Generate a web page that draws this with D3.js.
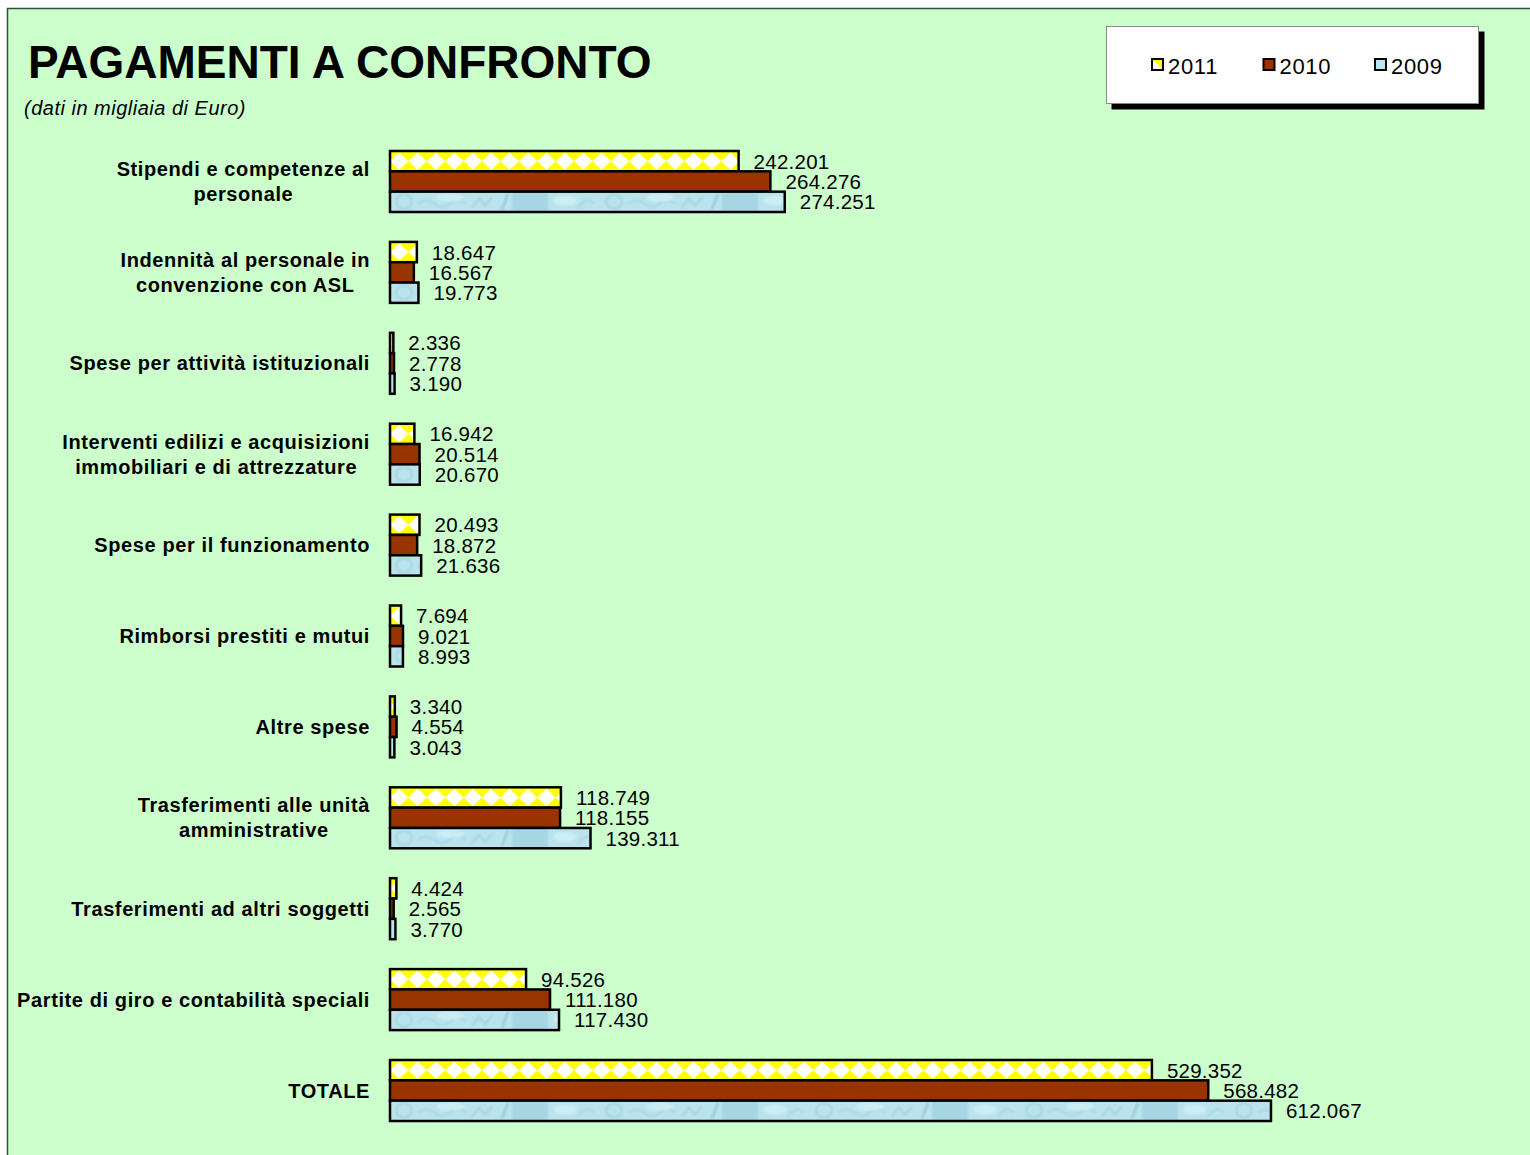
<!DOCTYPE html>
<html><head><meta charset="utf-8">
<script src="https://cdn.jsdelivr.net/npm/d3@7"></script>
<style>
html,body{margin:0;padding:0;background:#fff;}
svg{display:block;font-family:"Liberation Sans",Arial,Helvetica,sans-serif;}
</style></head>
<body>
<svg id="chart" width="1530" height="1155"></svg>
<script>
const title = "PAGAMENTI A CONFRONTO";
const subtitle = "(dati in migliaia di Euro)";
const categories = [
  "Stipendi e competenze al\npersonale",
  "Indennità al personale in\nconvenzione con ASL",
  "Spese per attività istituzionali",
  "Interventi edilizi e acquisizioni\nimmobiliari e di attrezzature",
  "Spese per il funzionamento",
  "Rimborsi prestiti e mutui",
  "Altre spese",
  "Trasferimenti alle unità\namministrative",
  "Trasferimenti ad altri soggetti",
  "Partite di giro e contabilità speciali",
  "TOTALE"
];
const years = ["2011", "2010", "2009"];
const values2011 = [242201, 18647, 2336, 16942, 20493, 7694, 3340, 118749, 4424, 94526, 529352];
const values2010 = [264276, 16567, 2778, 20514, 18872, 9021, 4554, 118155, 2565, 111180, 568482];
const values2009 = [274251, 19773, 3190, 20670, 21636, 8993, 3043, 139311, 3770, 117430, 612067];

const seriesByYear = {"2011": values2011, "2010": values2010, "2009": values2009};
const fillByYear = {"2011": "url(#pat2011)", "2010": "#993300", "2009": "url(#pat2009)"};

const svg = d3.select("#chart");
const W = 1530, H = 1155;

// background + frame
svg.append("rect").attr("x", 0).attr("y", 0).attr("width", W).attr("height", H).attr("fill", "#ffffff");
svg.append("rect").attr("x", 7.5).attr("y", 8.5).attr("width", W).attr("height", H)
  .attr("fill", "#CCFFCC").attr("stroke", "#2f4f3a").attr("stroke-width", 1.5);

// patterns
const defs = svg.append("defs");
const p1 = defs.append("pattern").attr("id", "pat2011").attr("patternUnits", "userSpaceOnUse")
  .attr("width", 18.4).attr("height", 20.3).attr("x", 390).attr("y", 0);
p1.append("rect").attr("width", 18.4).attr("height", 20.3).attr("fill", "#FFFF00");
p1.append("path").attr("d", "M0,10.15 L9.2,1.5 L18.4,10.15 L9.2,18.8 Z").attr("fill", "#ffffff");

const blur = defs.append("filter").attr("id", "soft").attr("x", "-20%").attr("y", "-50%").attr("width", "140%").attr("height", "200%");
blur.append("feGaussianBlur").attr("stdDeviation", 1.2);

const p2 = defs.append("pattern").attr("id", "pat2009").attr("patternUnits", "userSpaceOnUse")
  .attr("width", 210).attr("height", 20.3).attr("x", 390).attr("y", 0);
p2.append("rect").attr("width", 210).attr("height", 20.3).attr("fill", "#BAE3ED");
const tex = p2.append("g").attr("filter", "url(#soft)");
tex.append("ellipse").attr("cx", 14).attr("cy", 10).attr("rx", 8).attr("ry", 7).attr("fill", "none").attr("stroke", "#A3D3DF").attr("stroke-width", 1.8);
tex.append("path").attr("d", "M28,12 q8,-6 16,0 t16,0 t16,0").attr("fill", "none").attr("stroke", "#A8D7E3").attr("stroke-width", 2);
tex.append("ellipse").attr("cx", 60).attr("cy", 6).attr("rx", 14).attr("ry", 4).attr("fill", "#CBEDF4");
tex.append("path").attr("d", "M82,16 l7,-9 l6,7 l7,-8").attr("fill", "none").attr("stroke", "#A0D1DE").attr("stroke-width", 1.8);
tex.append("path").attr("d", "M112,18 l6,-16").attr("fill", "none").attr("stroke", "#8DC6D6").attr("stroke-width", 2);
tex.append("rect").attr("x", 122).attr("y", 1).attr("width", 36).attr("height", 19).attr("fill", "#A6D6E3");
tex.append("ellipse").attr("cx", 175).attr("cy", 9).attr("rx", 12).attr("ry", 5).attr("fill", "#CCEEF5");
tex.append("path").attr("d", "M188,16 q8,-12 16,-4").attr("fill", "none").attr("stroke", "#A5D5E1").attr("stroke-width", 1.8);

// title
svg.append("text").attr("x", 28).attr("y", 78).attr("font-size", 46).attr("font-weight", "bold")
  .attr("fill", "#000").text(title);
svg.append("text").attr("x", 24).attr("y", 115).attr("font-size", 20).attr("font-style", "italic")
  .attr("letter-spacing", 0.5).attr("fill", "#000").text(subtitle);

// scales
const x = d3.scaleLinear().domain([0, 600000]).range([390, 390 + 863.6]);
const n = categories.length;
const step = 90.9, pIn = 1 - 61 / 90.9;
const y = d3.scaleBand().domain(categories).range([151, 151 + step * (n - pIn)])
  .paddingInner(pIn).paddingOuter(0).align(0);
const yy = d3.scaleBand().domain(years).range([0, y.bandwidth()]).padding(0);

const itFmt = d3.formatLocale({decimal: ",", thousands: ".", grouping: [3], currency: ["€", ""]}).format(",d");

// bars
const groups = svg.append("g").selectAll("g").data(categories).join("g")
  .attr("transform", d => `translate(0,${y(d)})`);

groups.each(function(cat, i) {
  const g = d3.select(this);
  years.forEach(yr => {
    const v = seriesByYear[yr][i];
    g.append("rect")
      .attr("x", x(0)).attr("y", yy(yr))
      .attr("width", x(v) - x(0)).attr("height", yy.bandwidth())
      .attr("fill", fillByYear[yr]).attr("stroke", "#000").attr("stroke-width", 2.5);
  });
  years.forEach(yr => {
    const v = seriesByYear[yr][i];
    g.append("text")
      .attr("x", x(v) + 15).attr("y", yy(yr) + yy.bandwidth() / 2 + 7.5)
      .attr("font-size", 20.5).attr("letter-spacing", 0.25).attr("fill", "#000").text(itFmt(v));
  });
});

// category labels: centered block, right edge at 370
const labelRight = 370, lineH = 25;
categories.forEach(cat => {
  const lines = cat.split("\n");
  const cy = y(cat) + y.bandwidth() / 2;
  const t = svg.append("text").attr("font-size", 20).attr("font-weight", "bold")
    .attr("letter-spacing", 0.6).attr("fill", "#000").attr("text-anchor", "middle");
  const spans = lines.map((ln, k) => t.append("tspan")
    .attr("y", cy + 7 + (k - (lines.length - 1) / 2) * lineH).text(ln));
  const maxW = d3.max(spans, s => s.node().getComputedTextLength());
  spans.forEach(s => s.attr("x", labelRight - maxW / 2));
});

// legend
const lg = svg.append("g");
lg.append("rect").attr("x", 1111.5).attr("y", 31.5).attr("width", 373).attr("height", 78).attr("fill", "#000");
lg.append("rect").attr("x", 1106.5).attr("y", 26.5).attr("width", 372).attr("height", 77)
  .attr("fill", "#fff").attr("stroke", "#8a8a8a").attr("stroke-width", 1);
const legX = d3.scalePoint().domain(years).range([1152, 1375]);
const legendFill = {"2011": "url(#legpat)", "2010": "#993300", "2009": "#BCE6EF"};
const lp = defs.append("linearGradient").attr("id", "legpat").attr("x1", 0).attr("y1", 1).attr("x2", 1).attr("y2", 0);
lp.append("stop").attr("offset", "50%").attr("stop-color", "#ffffff");
lp.append("stop").attr("offset", "50%").attr("stop-color", "#FFFF00");
years.forEach(yr => {
  lg.append("rect").attr("x", legX(yr)).attr("y", 59).attr("width", 11).attr("height", 11)
    .attr("fill", legendFill[yr]).attr("stroke", "#000").attr("stroke-width", 2);
  lg.append("text").attr("x", legX(yr) + 16).attr("y", 74).attr("font-size", 22)
    .attr("letter-spacing", 0.7).attr("fill", "#000").text(yr);
});
</script>
</body></html>
